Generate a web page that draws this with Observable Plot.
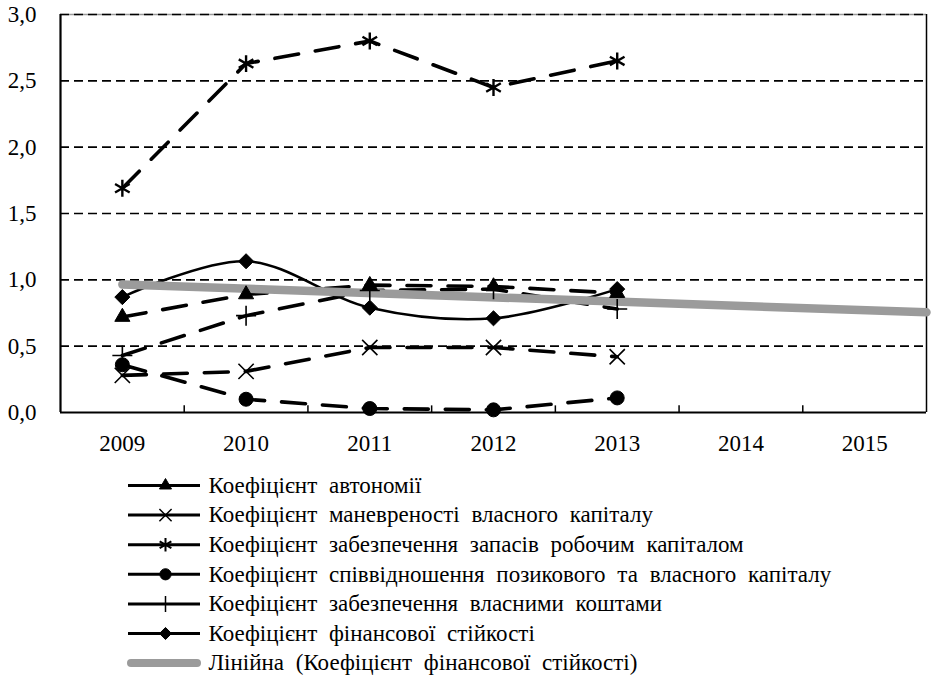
<!DOCTYPE html>
<html>
<head>
<meta charset="utf-8">
<script src="https://cdn.jsdelivr.net/npm/d3@7"></script>
<script src="https://cdn.jsdelivr.net/npm/@observablehq/plot@0.6"></script>
<style>
  html, body { margin: 0; padding: 0; background: #fff; }
  #chart svg { display: block; }
  #chart svg text { font-family: "Liberation Serif", "Times New Roman", serif; }
  #chart svg.legendplot text { word-spacing: 6px; }
</style>
</head>
<body>
<div id="chart"></div>
<script>
// ---- data ----
const years = [2009, 2010, 2011, 2012, 2013];
const axisYears = [2009, 2010, 2011, 2012, 2013, 2014, 2015];
const yTicks = [0, 0.5, 1, 1.5, 2, 2.5, 3];

const seriesNames = [
  "Коефіцієнт автономії",
  "Коефіцієнт маневреності власного капіталу",
  "Коефіцієнт забезпечення запасів робочим капіталом",
  "Коефіцієнт співвідношення позикового та власного капіталу",
  "Коефіцієнт забезпечення власними коштами",
  "Коефіцієнт фінансової стійкості"
];
const autonomy      = [0.72, 0.89, 0.96, 0.95, 0.90];
const maneuver      = [0.28, 0.31, 0.49, 0.49, 0.42];
const inventoryCap  = [1.69, 2.63, 2.80, 2.45, 2.65];
const debtEquity    = [0.36, 0.10, 0.03, 0.02, 0.11];
const ownFunds      = [0.43, 0.73, 0.92, 0.93, 0.78];
const finStability  = [0.87, 1.14, 0.79, 0.71, 0.93];
const trendName = "Лінійна (Коефіцієнт фінансової стійкості)";
const trendYears  = [2009, 2015.5];
const trendValues = [0.965, 0.755];

const seriesValues = [autonomy, maneuver, inventoryCap, debtEquity, ownFunds, finStability];
const symbols = ["triangle", "times", "asterisk", "circle", "plus", "diamond2"];
const filled  = [true, false, false, true, false, true];
const radii   = [5.6, 7, 8, 7, 6.5, 6.8];

// ---- tables ----
const rows = [];
seriesValues.forEach((vals, s) => vals.forEach((v, i) => rows.push({s, year: years[i], v})));
const trend = trendYears.map((y, i) => ({year: y, v: trendValues[i]}));
const bandEdges = [2009.5, 2010.5, 2011.5, 2012.5, 2013.5, 2014.5];
const gridVals = yTicks.filter(d => d > 0);

const font = "Liberation Serif, Times New Roman, serif";
const dash = "24,17";

const marks = [];
// grid
marks.push(Plot.ruleY([3], {stroke: "#9a9a9a", strokeWidth: 1.5}));
marks.push(Plot.ruleY(gridVals, {stroke: "#000", strokeWidth: 1.6, strokeDasharray: "9,5"}));
// frame
marks.push(Plot.ruleX([2015.5], {y1: 0, y2: 3, stroke: "#000", strokeWidth: 1.5}));
marks.push(Plot.ruleX([2008.5], {y1: 0, y2: 3, stroke: "#000", strokeWidth: 2.2}));
marks.push(Plot.ruleY([0], {stroke: "#000", strokeWidth: 2.2}));
marks.push(Plot.ruleX(bandEdges, {y1: 0, y2: 0.05, stroke: "#000", strokeWidth: 1.5}));
// series lines
seriesValues.forEach((vals, s) => {
  const data = rows.filter(d => d.s === s);
  if (s === 5) {
    marks.push(Plot.line(data, {x: "year", y: "v", stroke: "#000", strokeWidth: 2.6, curve: "catmull-rom"}));
  } else {
    marks.push(Plot.line(data, {x: "year", y: "v", stroke: "#000", strokeWidth: 3.6,
      strokeDasharray: dash, strokeLinecap: "round"}));
  }
});
// trend
marks.push(Plot.line(trend, {x: "year", y: "v", stroke: "#9b9b9b", strokeWidth: 8.5, strokeLinecap: "round"}));
// markers
seriesValues.forEach((vals, s) => {
  const data = rows.filter(d => d.s === s);
  marks.push(Plot.dot(data, {x: "year", y: "v", symbol: () => symbols[s], r: radii[s],
    fill: filled[s] ? "#000" : "none", stroke: "#000", strokeWidth: filled[s] ? 1 : (s === 2 ? 2.4 : 1.6)}));
});
// axes
marks.push(Plot.axisX({ticks: axisYears, tickFormat: d => String(d), tickSize: 0, tickPadding: 22,
  fontSize: 23, fontFamily: font}));
marks.push(Plot.axisY({ticks: yTicks, tickFormat: d => d.toFixed(1).replace(".", ","), tickSize: 0,
  tickPadding: 24, fontSize: 23, fontFamily: font}));

const chart = Plot.plot({
  width: 932, height: 460,
  marginLeft: 60, marginRight: 6, marginTop: 14, marginBottom: 48,
  x: {domain: [2008.5, 2015.5], label: null},
  y: {domain: [0, 3], label: null},
  style: {fontFamily: font, color: "#000", background: "#fff"},
  marks
});
document.getElementById("chart").appendChild(chart);

// ---- legend ----
const legendItems = seriesNames.map((name, s) => ({name, s})).concat([{name: trendName, s: 6}]);
const ly = (d) => 25 + d.s * 29.6;
const legendMarks = [];
legendItems.forEach(d => {
  if (d.s < 6) {
    legendMarks.push(Plot.ruleY([d], {y: ly, x1: 128, x2: 200, stroke: "#000", strokeWidth: 3}));
    legendMarks.push(Plot.dot([d], {x: 165, y: ly, symbol: () => symbols[d.s], r: radii[d.s] * 0.8,
      fill: filled[d.s] ? "#000" : "#fff", stroke: "#000", strokeWidth: filled[d.s] ? 1 : (d.s === 2 ? 2 : 1.5)}));
  } else {
    legendMarks.push(Plot.ruleY([d], {y: ly, x1: 131, x2: 197, stroke: "#9b9b9b", strokeWidth: 8, strokeLinecap: "round"}));
  }
});
legendMarks.push(Plot.text(legendItems, {x: 208, y: ly, text: "name", textAnchor: "start",
  fontSize: 23, fontFamily: font, fill: "#000"}));

const legend = Plot.plot({
  width: 932, height: 218,
  margin: 0,
  className: "legendplot",
  x: {type: "identity", axis: null},
  y: {type: "identity", axis: null},
  style: {fontFamily: font, background: "#fff"},
  marks: legendMarks
});
legend.classList.add("legendplot");
document.getElementById("chart").appendChild(legend);
</script>
</body>
</html>
